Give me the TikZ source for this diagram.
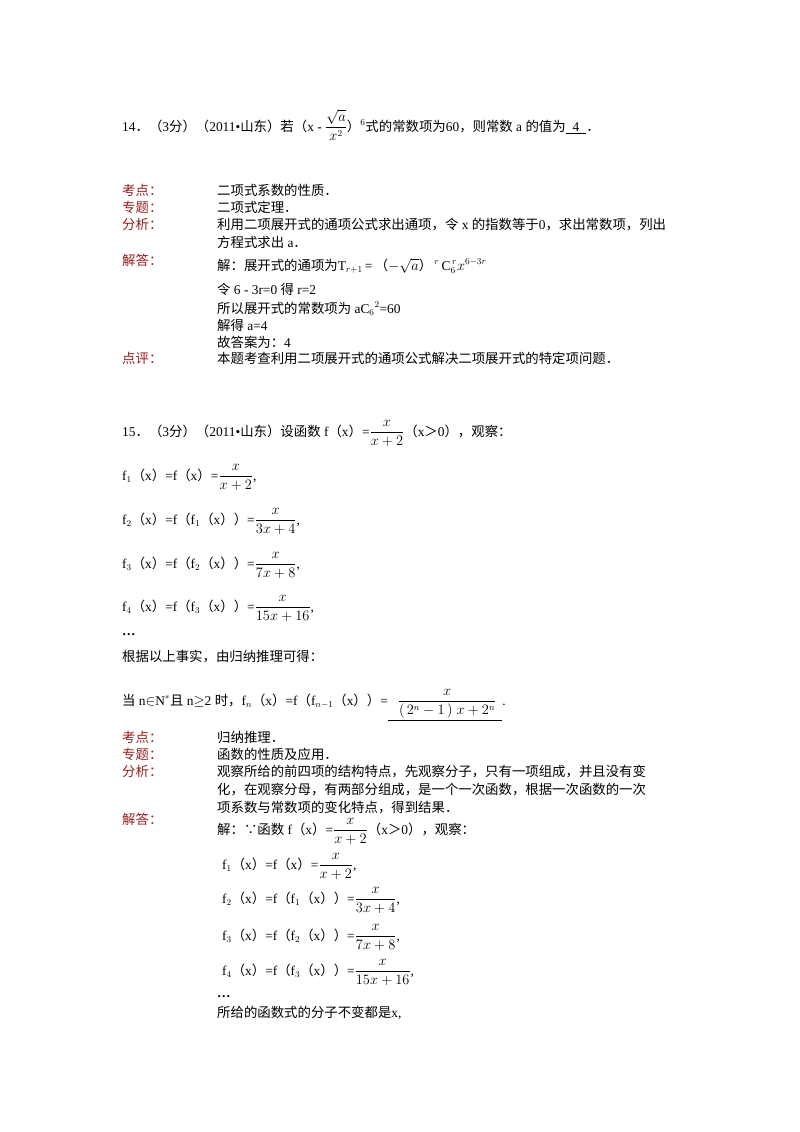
\documentclass[tikz,border=0pt]{standalone}
\usepackage{amsmath}
\usepackage{fontspec}
\setmainfont{Liberation Serif}
\newfontfamily\cjk{Noto Sans CJK SC}
\newcommand\zh[1]{{\cjk\fontsize{13.4}{15}\selectfont #1}}
\definecolor{lab}{RGB}{150,30,30}
\begin{document}
\begin{tikzpicture}[x=1pt,y=-1pt,
  t/.style={anchor=base west,inner sep=0pt,font=\fontsize{13.4}{15}\selectfont},
  l/.style={t,text=lab}]
\useasboundingbox (0,0) rectangle (800,1132);
\fill[white] (0,0) rectangle (800,1132);
% 14
\node[t] (q14) at (122,131) {14\zh{．（}3\zh{分）（}2011•\zh{山东）若（}x - $\dfrac{\sqrt{a}}{x^2}$\zh{）}$^6$\zh{式的常数项为}60\zh{，则常数} a \zh{的值为}\underline{\hspace{7pt}4\hspace{7pt}}\zh{．}};
\node[l] (k1) at (122,195) {\zh{考点：}};
\node[t] (k1t) at (217,195) {\zh{二项式系数的性质．}};
\node[l] (z1) at (122,212) {\zh{专题：}};
\node[t] (z1t) at (217,212) {\zh{二项式定理．}};
\node[l] (f1) at (122,229) {\zh{分析：}};
\node[t] (f1a) at (217,229) {\zh{利用二项展开式的通项公式求出通项，令} x \zh{的指数等于}0\zh{，求出常数项，列出}};
\node[t] (f1b) at (217,247) {\zh{方程式求出} a\zh{．}};
\node[l] (j1) at (122,265) {\zh{解答：}};
\node[t] (j1a) at (217,270) {\zh{解：展开式的通项为}$\mathrm{T}_{r+1}$\,=\,\zh{（}$-\sqrt{a}$\zh{）}\,$^{r}\,\mathrm{C}_6^{\,r}x^{6-3r}$};
\node[t] (j1b) at (217,294) {\zh{令} 6 - 3r=0 \zh{得} r=2};
\node[t] (j1c) at (217,313) {\zh{所以展开式的常数项为} aC$_6$$^2$=60};
\node[t] (j1d) at (217,330) {\zh{解得} a=4};
\node[t] (j1e) at (217,347) {\zh{故答案为：}4};
\node[l] (d1) at (122,363) {\zh{点评：}};
\node[t] (d1t) at (217,363) {\zh{本题考查利用二项展开式的通项公式解决二项展开式的特定项问题．}};
% 15
\node[t] (q15) at (122,436) {15\zh{．（}3\zh{分）（}2011•\zh{山东）设函数} f\zh{（}x\zh{）}=$\dfrac{x}{x+2}$\zh{（}x\zh{＞}0\zh{），观察：}};
\node[t] (g1) at (122,480) {f$_1$\zh{（}x\zh{）}=f\zh{（}x\zh{）}=$\dfrac{x}{x+2}$,};
\node[t] (g2) at (122,524) {f$_2$\zh{（}x\zh{）}=f\zh{（}f$_1$\zh{（}x\zh{））}=$\dfrac{x}{3x+4}$,};
\node[t] (g3) at (122,568) {f$_3$\zh{（}x\zh{）}=f\zh{（}f$_2$\zh{（}x\zh{））}=$\dfrac{x}{7x+8}$,};
\node[t] (g4) at (122,611) {f$_4$\zh{（}x\zh{）}=f\zh{（}f$_3$\zh{（}x\zh{））}=$\dfrac{x}{15x+16}$,};
\node[t] (g5) at (122,635) {\textbf{…}};
\node[t] (g6) at (122,661) {\zh{根据以上事实，由归纳推理可得：}};
\node[t] (g7) at (122,705) {\zh{当} n$\in$N$^*$\zh{且} n$\geq$2 \zh{时，}f$_n$\zh{（}x\zh{）}=f\zh{（}f$_{n-1}$\zh{（}x\zh{））}=\underline{\hspace{10pt}$\dfrac{x}{(\,2^n-1\,)\;x+2^n}$\hspace{6pt}}.};
\node[l] (k2) at (122,742) {\zh{考点：}};
\node[t] (k2t) at (217,742) {\zh{归纳推理．}};
\node[l] (z2) at (122,759) {\zh{专题：}};
\node[t] (z2t) at (217,759) {\zh{函数的性质及应用．}};
\node[l] (f2) at (122,776) {\zh{分析：}};
\node[t] (f2a) at (217,776) {\zh{观察所给的前四项的结构特点，先观察分子，只有一项组成，并且没有变}};
\node[t] (f2b) at (217,794) {\zh{化，在观察分母，有两部分组成，是一个一次函数，根据一次函数的一次}};
\node[t] (f2c) at (217,812) {\zh{项系数与常数项的变化特点，得到结果．}};
\node[l] (j2) at (122,824) {\zh{解答：}};
\node[t] (j2a) at (217,834) {\zh{解：∵函数} f\zh{（}x\zh{）}=$\dfrac{x}{x+2}$\zh{（}x\zh{＞}0\zh{），观察：}};
\node[t] (h1) at (222,869) {f$_1$\zh{（}x\zh{）}=f\zh{（}x\zh{）}=$\dfrac{x}{x+2}$,};
\node[t] (h2) at (222,903) {f$_2$\zh{（}x\zh{）}=f\zh{（}f$_1$\zh{（}x\zh{））}=$\dfrac{x}{3x+4}$,};
\node[t] (h3) at (222,940) {f$_3$\zh{（}x\zh{）}=f\zh{（}f$_2$\zh{（}x\zh{））}=$\dfrac{x}{7x+8}$,};
\node[t] (h4) at (222,975) {f$_4$\zh{（}x\zh{）}=f\zh{（}f$_3$\zh{（}x\zh{））}=$\dfrac{x}{15x+16}$,};
\node[t] (h5) at (217,997) {\textbf{…}};
\node[t] (h6) at (217,1017) {\zh{所给的函数式的分子不变都是}x,};
\end{tikzpicture}
\end{document}
